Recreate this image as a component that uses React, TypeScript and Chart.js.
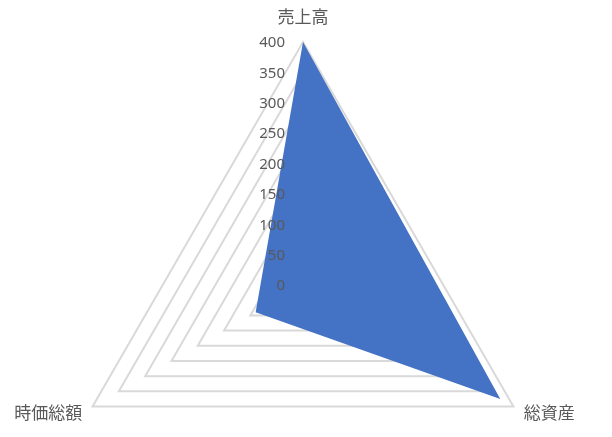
import { useEffect, useRef } from "react";
import Chart from "chart.js/auto";

const CATEGORIES = ["売上高", "総資産", "時価総額"];
const VALUES = [400, 375, 90];
const TICK_VALUES = [0, 50, 100, 150, 200, 250, 300, 350, 400];

const TEXT_COLOR = "#595959";

// draws the axis numbers (right aligned beside the vertical axis) and the category names
const labelPlugin = {
  id: "excelLabels",
  afterDatasetsDraw(chart: any) {
    const scale = chart.scales.r;
    const ctx = chart.ctx;
    ctx.save();
    ctx.fillStyle = TEXT_COLOR;

    ctx.font = '15px "Noto Sans", sans-serif';
    ctx.textAlign = "right";
    ctx.textBaseline = "middle";
    scale.ticks.forEach((t: any) => {
      const d = scale.getDistanceFromCenterForValue(t.value);
      ctx.fillText(String(t.value), scale.xCenter - 18, scale.yCenter - d + 1);
    });

    ctx.font = '17px "Noto Sans CJK JP", sans-serif';
    chart.data.labels.forEach((label: string, i: number) => {
      const pad = i === 0 ? 25 : 12;
      const p = scale.getPointPosition(i, scale.drawingArea + pad);
      ctx.textAlign = i === 0 ? "center" : p.x > scale.xCenter ? "left" : "right";
      ctx.fillText(label, p.x, p.y);
    });
    ctx.restore();
  },
};

function RadarChart() {
  const canvasRef = useRef<HTMLCanvasElement>(null);
  const chartRef = useRef<Chart | null>(null);

  useEffect(() => {
    if (!canvasRef.current) return;
    chartRef.current?.destroy();

    chartRef.current = new Chart(canvasRef.current, {
      type: "radar",
      data: {
        labels: CATEGORIES,
        datasets: [
          {
            label: "系列1",
            data: VALUES,
            backgroundColor: "#4472c4",
            borderColor: "#4472c4",
            borderWidth: 0,
            pointRadius: 0,
            fill: true,
          },
        ],
      },
      options: {
        responsive: true,
        maintainAspectRatio: false,
        animation: false,
        layout: { padding: { left: 60, right: 66, top: 42, bottom: 12 } },
        plugins: { legend: { display: false }, tooltip: { enabled: false } },
        scales: {
          r: {
            min: 0,
            max: 400,
            afterBuildTicks: (s: any) => {
              s.ticks = TICK_VALUES.map((v) => ({ value: v }));
            },
            ticks: { display: false },
            pointLabels: { display: false },
            angleLines: { display: false },
            grid: { color: "#d9d9d9", lineWidth: 2 },
          },
        },
      },
      plugins: [labelPlugin],
    });

    return () => {
      chartRef.current?.destroy();
      chartRef.current = null;
    };
  }, []);

  return (
    <div style={{ position: "absolute", left: 0, top: 0, width: 612, height: 540 }}>
      <canvas ref={canvasRef} />
    </div>
  );
}

export default function App() {
  return (
    <div style={{ position: "fixed", inset: 0, overflow: "hidden", background: "#fff" }}>
      <RadarChart />
    </div>
  );
}
